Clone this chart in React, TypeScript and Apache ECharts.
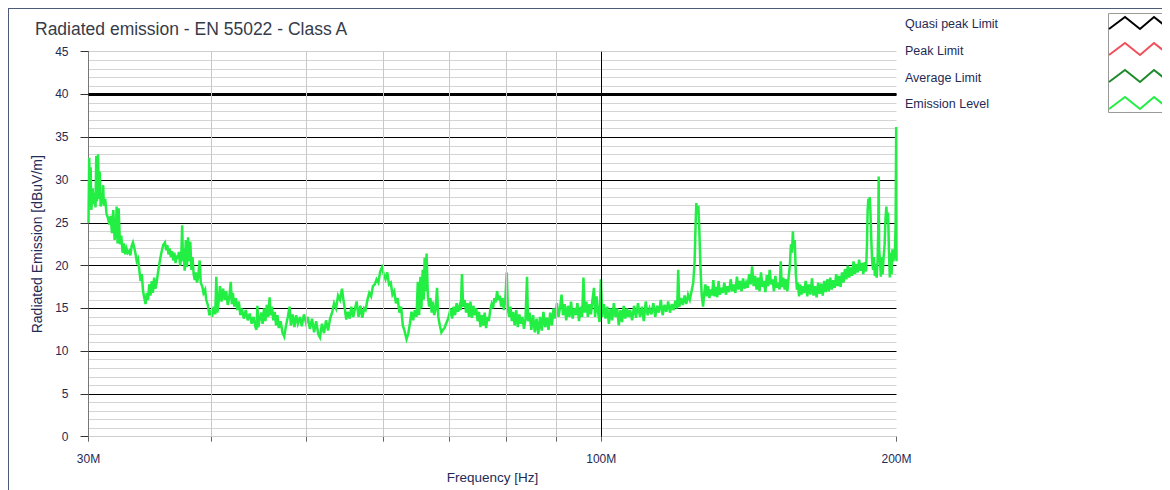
import React, { useEffect, useRef } from "react";
import * as echarts from "echarts";

const chartTitle = "Radiated emission - EN 55022 - Class A";
const yAxisName = "Radiated Emission [dBuV/m]";
const xAxisName = "Frequency [Hz]";
const legendNames = ["Quasi peak Limit", "Peak Limit", "Average Limit", "Emission Level"];
const legendColors = ["#000000", "#f0505a", "#1e8a2a", "#22ee44"];
const xLabelValues = [30, 100, 200];
const xTickValues = [30, 40, 50, 60, 70, 80, 90, 100, 200];
const xMinorGrid = [40, 50, 60, 70, 80, 90];
const xMajorGrid = [100];
const yTicks = [0, 5, 10, 15, 20, 25, 30, 35, 40, 45];

const quasiPeakLimit: [number, number][] = [[30, 40], [200, 40]];
const peakLimit: [number, number][] = [];
const averageLimit: [number, number][] = [];

// frequency [MHz], level [dBuV/m]
const emission: [number, number][] = [
  [30.0, 25.0], [30.05, 32.6], [30.1, 27.0], [30.15, 31.5], [30.2, 26.5], [30.3, 29.0], [30.35, 27.2], [30.45, 28.5], [30.5, 26.8], [30.55, 32.8], [30.6, 27.5], [30.68, 33.0], [30.75, 27.8], [30.8, 31.0], [30.87, 26.9], [30.93, 28.5], [31.0, 27.2], [31.05, 29.4], [31.1, 27.0], [31.2, 27.8], [31.3, 26.0],
  [31.4, 25.6], [31.5, 24.8], [31.6, 25.8], [31.7, 23.8], [31.8, 26.5], [31.9, 23.0], [32.0, 24.5], [32.05, 26.9], [32.12, 22.6], [32.2, 26.7], [32.3, 22.5], [32.4, 23.5],
  [32.5, 21.5], [32.6, 22.6], [32.7, 21.3], [32.8, 22.0], [32.9, 21.5], [33.0, 21.7], [33.1, 21.2], [33.2, 22.3], [33.3, 22.7], [33.4, 22.1], [33.5, 21.4],
  [33.6, 20.5], [33.7, 20.8], [33.8, 19.5], [33.9, 18.2], [34.0, 19.0], [34.1, 17.0], [34.2, 16.2], [34.3, 15.5], [34.4, 16.8],
  [34.5, 16.0], [34.6, 17.8], [34.7, 16.5], [34.8, 18.2], [34.9, 16.8], [35.0, 18.6], [35.1, 17.3], [35.2, 18.0],
  [35.35, 19.5], [35.5, 20.8], [35.6, 21.5], [35.75, 22.4], [35.9, 22.7], [36.0, 21.8],
  [36.1, 22.4], [36.2, 21.3], [36.3, 22.0], [36.4, 21.0], [36.5, 21.7], [36.6, 20.6], [36.7, 21.5], [36.8, 20.3], [36.9, 21.2], [37.0, 20.8], [37.1, 21.6], [37.2, 20.0], [37.3, 21.0], [37.38, 24.7], [37.45, 20.5],
  [37.5, 22.0], [37.6, 19.4], [37.7, 23.0], [37.8, 19.8], [37.9, 23.3], [38.0, 20.5], [38.1, 22.8], [38.2, 19.5], [38.3, 21.0],
  [38.4, 19.0], [38.5, 18.3], [38.6, 19.2], [38.7, 18.0], [38.8, 18.6], [38.95, 20.6], [39.05, 18.0], [39.2, 17.5],
  [39.3, 16.8], [39.45, 17.2], [39.55, 16.0], [39.7, 15.4], [39.85, 14.2], [40.0, 14.8], [40.1, 14.0],
  [40.25, 15.2], [40.4, 14.3], [40.5, 18.7], [40.6, 14.5], [40.7, 15.5],
  [40.85, 17.6], [41.0, 15.8], [41.15, 17.3], [41.3, 16.0], [41.45, 17.0], [41.6, 15.4], [41.75, 16.3], [41.9, 18.1], [42.0, 15.5], [42.1, 16.8],
  [42.25, 15.2], [42.4, 16.2], [42.55, 14.8], [42.7, 15.8], [42.85, 14.2], [43.0, 15.0], [43.2, 13.8], [43.4, 14.8], [43.6, 13.6], [43.8, 14.4], [44.0, 13.2], [44.2, 14.0], [44.4, 12.8],
  [44.5, 12.5], [44.6, 15.3], [44.7, 12.8], [44.85, 13.8],
  [45.0, 14.5], [45.15, 13.2], [45.3, 15.0], [45.45, 13.5], [45.6, 15.4], [45.75, 14.0], [45.9, 16.3], [46.0, 14.2],
  [46.15, 15.2], [46.3, 13.6], [46.45, 14.6], [46.6, 13.0], [46.75, 14.2], [46.9, 12.7], [47.1, 13.5], [47.3, 12.2], [47.5, 11.7],
  [47.7, 13.0], [47.9, 14.0], [48.1, 15.2], [48.25, 13.0], [48.45, 14.3], [48.65, 12.8], [48.85, 14.2], [49.05, 13.2], [49.3, 14.0], [49.5, 12.9], [49.75, 14.3], [50.0, 13.3], [50.2, 14.0],
  [50.45, 12.6], [50.7, 13.8], [50.95, 12.2], [51.2, 13.5], [51.45, 12.0], [51.66, 11.6], [51.9, 13.2], [52.15, 12.1], [52.4, 13.6], [52.65, 12.4], [52.9, 13.8],
  [53.15, 14.5], [53.4, 15.6], [53.65, 15.0], [53.9, 16.5], [54.15, 16.0], [54.4, 17.3], [54.55, 16.2],
  [54.75, 15.0], [54.95, 13.7], [55.15, 14.6], [55.4, 13.8],
  [55.6, 15.2], [55.85, 14.0], [56.1, 15.0], [56.3, 15.8], [56.55, 14.0], [56.8, 15.3], [57.05, 13.9], [57.3, 15.0],
  [57.5, 14.8], [57.75, 16.0], [58.0, 16.8], [58.25, 16.4], [58.5, 17.6], [58.75, 17.8], [59.0, 18.4], [59.25, 18.0], [59.5, 19.3], [59.75, 19.8],
  [60.0, 19.0], [60.25, 18.4], [60.5, 19.2], [60.75, 17.8], [61.0, 18.0], [61.25, 16.6],
  [61.5, 17.0], [61.75, 15.6], [62.0, 16.2], [62.25, 14.5], [62.5, 15.2], [62.75, 13.0], [63.0, 12.4], [63.3, 11.4], [63.55, 12.0], [63.8, 13.2],
  [64.05, 14.6], [64.3, 13.6], [64.55, 14.8], [64.8, 14.0], [65.0, 18.1], [65.2, 14.2], [65.4, 18.7], [65.55, 15.0],
  [65.75, 19.5], [65.9, 16.0], [66.05, 20.9], [66.2, 17.0], [66.35, 21.4], [66.55, 16.5], [66.75, 15.2],
  [66.95, 16.2], [67.15, 14.5], [67.35, 15.8], [67.55, 14.2], [67.8, 15.0], [68.0, 17.4], [68.2, 14.0],
  [68.45, 13.0], [68.7, 12.2], [68.95, 12.5], [69.2, 12.7], [69.45, 13.2], [69.7, 13.6], [69.95, 14.2],
  [70.2, 15.0], [70.45, 13.8], [70.7, 15.2], [70.95, 14.2], [71.2, 15.6], [71.45, 14.6], [71.7, 15.3], [71.9, 14.8], [72.1, 19.0], [72.3, 15.2],
  [72.55, 16.0], [72.8, 14.5], [73.05, 15.6], [73.3, 14.0], [73.55, 15.8], [73.8, 13.9], [74.05, 15.3], [74.3, 14.2], [74.55, 15.0],
  [74.8, 13.5], [75.05, 14.6], [75.3, 12.8], [75.55, 14.2], [75.8, 13.0], [76.05, 14.5], [76.3, 12.7], [76.55, 14.0], [76.8, 13.5],
  [77.05, 14.8], [77.3, 15.5], [77.55, 15.0], [77.8, 16.2], [78.05, 15.7], [78.3, 17.0], [78.55, 16.0], [78.8, 16.5],
  [79.05, 15.2], [79.3, 16.2], [79.55, 14.8], [79.8, 15.8], [80.1, 19.2], [80.3, 15.0],
  [80.55, 14.0], [80.8, 15.2], [81.05, 13.5], [81.3, 14.6], [81.6, 13.0], [81.9, 14.8], [82.2, 12.8], [82.5, 14.3], [82.8, 13.2], [83.1, 14.0], [83.4, 12.6], [83.7, 13.8], [84.0, 18.7], [84.2, 13.5],
  [84.5, 14.5], [84.85, 12.5], [85.2, 14.2], [85.55, 12.2], [85.9, 13.8], [86.25, 12.0], [86.6, 14.0], [86.95, 12.4], [87.3, 14.6], [87.65, 12.8], [88.0, 13.9], [88.35, 12.5], [88.7, 14.5], [89.05, 13.0],
  [89.4, 15.0], [89.75, 13.8], [90.1, 15.6], [90.45, 14.0], [90.8, 15.2], [91.1, 16.6], [91.4, 14.2], [91.75, 15.5], [92.1, 13.6], [92.45, 15.3], [92.8, 14.0], [93.15, 15.8], [93.5, 13.8], [93.85, 15.0], [94.2, 14.2], [94.55, 15.6], [94.9, 13.5],
  [95.3, 15.2], [95.6, 14.0], [95.9, 18.6], [96.2, 14.5], [96.55, 15.8], [96.9, 14.0], [97.25, 15.5], [97.6, 14.3], [97.95, 16.0], [98.3, 17.4], [98.55, 14.0], [98.9, 16.4], [99.25, 14.5], [99.6, 13.4], [99.9, 18.4], [100.2, 14.0],
  [100.6, 15.5], [101.0, 13.8], [101.4, 15.2], [101.8, 13.2], [102.2, 15.0], [102.6, 13.6], [103.0, 15.6], [103.4, 14.0], [103.8, 15.0], [104.2, 13.0], [104.6, 14.8], [105.0, 13.4], [105.4, 15.3], [105.8, 13.8], [106.2, 15.0], [106.6, 14.0], [107.0, 14.8],
  [107.5, 13.6], [108.0, 15.3], [108.5, 13.9], [109.0, 15.6], [109.5, 14.0], [110.0, 15.2], [110.5, 13.5], [111.0, 15.8], [111.5, 14.2], [112.0, 15.0], [112.5, 14.3], [113.0, 15.6], [113.5, 14.0], [114.0, 15.3], [114.5, 14.5], [115.0, 16.0], [115.5, 14.2], [116.0, 15.4], [116.5, 14.6], [117.0, 15.8], [117.5, 14.5], [118.0, 15.5], [118.5, 14.8], [119.0, 15.9],
  [119.5, 15.0], [119.8, 19.5], [120.1, 15.2], [120.6, 16.2], [121.1, 15.4], [121.6, 16.5], [122.1, 15.5], [122.6, 16.6], [123.1, 16.0], [123.6, 17.0],
  [124.1, 18.0], [124.5, 20.5], [124.8, 25.0], [125.0, 27.3], [125.3, 26.0], [125.6, 27.0], [125.9, 24.0], [126.2, 20.0], [126.6, 16.5], [127.0, 15.2], [127.3, 16.6],
  [127.7, 17.8], [128.1, 16.4], [128.5, 17.6], [128.9, 16.2], [129.3, 17.2], [129.7, 16.5], [130.1, 18.3], [130.5, 16.4], [130.9, 17.5], [131.3, 16.3], [131.7, 18.2], [132.1, 16.6], [132.5, 17.4],
  [133.0, 16.8], [133.5, 18.0], [134.0, 16.6], [134.5, 17.6], [135.0, 16.9], [135.5, 18.4], [136.0, 17.0], [136.5, 17.8], [137.0, 16.8], [137.5, 18.7], [138.0, 17.2], [138.5, 18.2], [139.0, 17.0], [139.5, 18.5], [140.0, 17.3], [140.5, 18.0], [141.0, 17.4],
  [141.5, 19.0], [142.0, 17.8], [142.5, 19.9], [143.0, 17.6], [143.5, 18.8], [144.0, 17.2], [144.5, 18.6], [145.0, 17.0], [145.5, 19.2], [146.0, 17.5], [146.5, 18.2], [147.0, 16.9], [147.5, 18.9], [148.0, 17.6], [148.5, 19.5], [149.0, 17.8], [149.5, 18.4], [150.0, 17.0], [150.5, 18.8], [151.0, 17.4], [151.5, 18.0], [152.0, 17.2], [152.4, 20.5], [152.8, 17.5],
  [153.3, 18.6], [153.8, 17.2], [154.3, 18.4], [154.8, 17.0], [155.3, 18.8],
  [155.7, 20.0], [156.1, 22.5], [156.5, 21.5], [156.8, 24.0], [157.1, 22.0], [157.5, 23.0], [157.9, 19.0],
  [158.3, 17.2], [158.7, 18.0], [159.1, 16.4], [159.5, 17.8], [160.0, 16.6], [160.5, 17.6],
  [161.0, 16.8], [161.6, 18.2], [162.2, 16.4], [162.8, 17.8], [163.4, 16.6], [164.0, 18.5], [164.6, 16.5], [165.2, 17.6], [165.8, 16.3], [166.4, 18.0], [167.0, 16.7], [167.6, 17.9], [168.2, 16.5], [168.8, 18.2], [169.4, 16.9], [170.0, 18.4], [170.6, 17.0], [171.2, 18.6], [171.8, 17.2], [172.4, 18.3], [173.0, 17.4], [173.6, 19.0], [174.2, 17.6], [174.8, 18.8], [175.4, 17.5],
  [176.0, 19.2], [176.6, 18.0], [177.2, 19.6], [177.8, 18.4], [178.4, 20.0], [179.0, 18.6], [179.6, 19.8], [180.2, 18.8], [180.8, 20.5], [181.4, 19.0], [182.0, 20.2], [182.6, 19.2], [183.2, 20.7], [183.8, 19.4], [184.4, 20.3], [185.0, 19.0], [185.6, 20.4], [186.2, 19.3],
  [186.6, 22.5], [186.9, 26.5], [187.2, 27.8], [187.5, 26.8], [187.8, 28.0], [188.1, 26.5], [188.5, 23.0], [188.9, 20.5],
  [189.3, 19.5], [189.7, 21.0], [190.1, 18.8], [190.5, 20.2], [190.9, 18.6], [191.3, 20.5], [191.6, 24.0], [191.8, 30.4], [192.0, 22.0],
  [192.4, 20.5], [192.8, 18.7], [193.2, 21.0], [193.6, 19.0], [194.0, 20.8],
  [194.5, 22.5], [194.9, 25.5], [195.3, 26.9], [195.7, 25.0], [196.1, 26.2], [196.5, 21.5],
  [196.9, 18.6], [197.3, 21.5], [197.7, 19.0], [198.1, 21.9], [198.5, 20.5], [198.9, 21.0],
  [199.3, 22.0], [199.6, 25.0], [199.85, 36.2], [200.0, 20.5],
];

export default function App() {
  const ref = useRef<HTMLDivElement>(null);

  useEffect(() => {
    if (!ref.current) return;
    const chart = echarts.init(ref.current, null, { renderer: "svg" });
    const font = "'Liberation Sans', Arial, sans-serif";
    const navy = "#1f2a55";

    const splitColors = yTicks.map((v, i) => (i === 0 || i === yTicks.length - 1 ? "#cfcfcf" : "#000000"));

    const legendRowTop = [8, 34, 61, 88];
    const legendTextY = [15, 42, 69, 95];
    const legendGraphics: any[] = [
      {
        type: "rect",
        shape: { x: 1099.5, y: 4.5, width: 80, height: 99 },
        style: { fill: "#ffffff", stroke: "#9a9a9a", lineWidth: 1 },
        z: 10,
      },
    ];
    legendNames.forEach((name, i) => {
      const t = legendRowTop[i];
      legendGraphics.push({
        type: "text",
        x: 896,
        y: legendTextY[i],
        style: {
          text: name,
          fill: navy,
          font: `12.5px ${font}`,
          textVerticalAlign: "middle",
          textAlign: "left",
        },
        z: 10,
      });
      legendGraphics.push({
        type: "polyline",
        shape: {
          points: [
            [1100, t + 12],
            [1116, t],
            [1131, t + 12],
            [1145, t],
            [1160, t + 12],
            [1175, t],
          ],
        },
        style: { stroke: legendColors[i], lineWidth: 2, fill: "none" },
        z: 11,
      });
    });

    const option: any = {
      animation: false,
      backgroundColor: "#ffffff",
      title: {
        text: chartTitle,
        left: 21,
        top: 6,
        textStyle: { fontSize: 17.5, fontWeight: "normal", color: "#363b4a", fontFamily: font },
      },
      grid: { left: 79.5, top: 42.7, width: 808, height: 385, containLabel: false },
      xAxis: {
        type: "log",
        logBase: 10,
        min: 30,
        max: 200,
        name: xAxisName,
        nameLocation: "middle",
        nameGap: 34,
        nameTextStyle: { color: navy, fontSize: 13.5, fontFamily: font },
        axisLine: { show: true, lineStyle: { color: "#cfcfcf", width: 1 } },
        axisTick: { show: true, customValues: xTickValues, length: 5, lineStyle: { color: "#666" } },
        axisLabel: {
          customValues: xLabelValues,
          formatter: (v: number) => `${Math.round(v)}M`,
          color: navy,
          fontSize: 12,
          margin: 16,
          fontFamily: font,
        },
        splitLine: { show: false },
      },
      yAxis: {
        type: "value",
        min: 0,
        max: 45,
        interval: 5,
        name: yAxisName,
        nameLocation: "middle",
        nameGap: 43,
        nameRotate: 90,
        nameTextStyle: { color: navy, fontSize: 14, fontFamily: font },
        axisLine: { show: true, lineStyle: { color: "#777", width: 1 } },
        axisTick: { show: true, length: 8, lineStyle: { color: "#333" } },
        axisLabel: { color: navy, fontSize: 12, margin: 20, fontFamily: font },
        splitLine: { show: true, lineStyle: { color: splitColors, width: 1 } },
        minorTick: { show: false, splitNumber: 5 },
        minorSplitLine: { show: true, lineStyle: { color: "#d4d4d4", width: 1 } },
      },
      graphic: legendGraphics,
      series: [
        {
          name: "grid",
          type: "line",
          data: [],
          silent: true,
          z: 1,
          markLine: {
            silent: true,
            symbol: ["none", "none"],
            label: { show: false },
            animation: false,
            data: [
              ...xMinorGrid.map((v) => ({ xAxis: v, lineStyle: { color: "#c8c8c8", width: 1, type: "solid" } })),
              ...xMajorGrid.map((v) => ({ xAxis: v, lineStyle: { color: "#000000", width: 1, type: "solid" } })),
            ],
          },
        },
        {
          name: legendNames[0],
          type: "line",
          data: quasiPeakLimit,
          symbol: "none",
          z: 3,
          lineStyle: { color: legendColors[0], width: 3 },
        },
        {
          name: legendNames[1],
          type: "line",
          data: peakLimit,
          symbol: "none",
          z: 3,
          lineStyle: { color: legendColors[1], width: 2 },
        },
        {
          name: legendNames[2],
          type: "line",
          data: averageLimit,
          symbol: "none",
          z: 3,
          lineStyle: { color: legendColors[2], width: 2 },
        },
        {
          name: legendNames[3],
          type: "line",
          data: emission,
          symbol: "none",
          z: 4,
          lineStyle: { color: legendColors[3], width: 2.5, join: "miter" },
        },
      ],
    };

    chart.setOption(option);
    return () => chart.dispose();
  }, []);

  return (
    <div
      ref={ref}
      style={{
        width: 1162,
        height: 482,
        boxSizing: "border-box",
        borderLeft: "1px solid #4d5a78",
        borderTop: "1px solid #4d5a78",
        background: "#ffffff",
      }}
    />
  );
}
